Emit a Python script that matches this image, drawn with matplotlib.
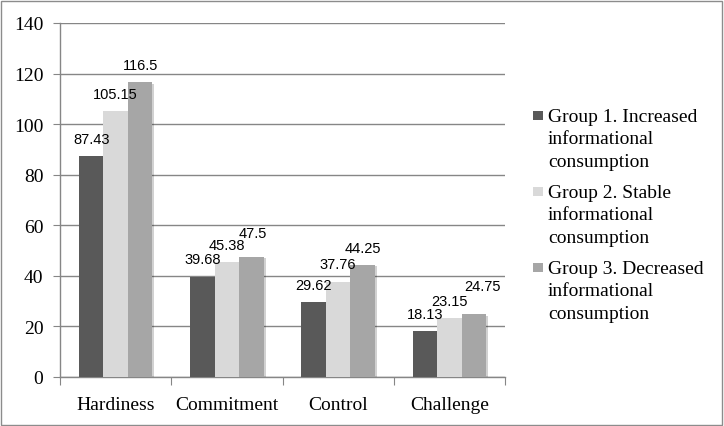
import matplotlib
matplotlib.use("Agg")
import matplotlib.pyplot as plt
import matplotlib.patheffects as pe
import numpy as np
from matplotlib.patches import Rectangle

categories = ["Hardiness", "Commitment", "Control", "Challenge"]
series_names = ["Group 1. Increased\ninformational\nconsumption",
                "Group 2. Stable\ninformational\nconsumption",
                "Group 3. Decreased\ninformational\nconsumption"]
group1 = [87.43, 39.68, 29.62, 18.13]
group2 = [105.15, 45.38, 37.76, 23.15]
group3 = [116.5, 47.5, 44.25, 24.75]
label1 = ["87.43", "39.68", "29.62", "18.13"]
label2 = ["105.15", "45.38", "37.76", "23.15"]
label3 = ["116.5", "47.5", "44.25", "24.75"]
yticks = [0, 20, 40, 60, 80, 100, 120, 140]
colors = ["#595959", "#d9d9d9", "#a6a6a6"]

# label offsets in points (layout only): (series, category) -> (dx, dy)
label_shift = {(2, 1): (1, 5), (2, 3): (6, 8)}

W, H = 724, 427
fig = plt.figure(figsize=(7.24, 4.27), dpi=100)
ax = fig.add_axes([60/W, 49/H, 445/W, 354/H])

x = np.arange(len(categories))
w = 0.22
series = [group1, group2, group3]
labels = [label1, label2, label3]
shadow = [pe.SimplePatchShadow(offset=(1.5, -1), shadow_rgbFace="#000000", alpha=0.18), pe.Normal()]
for i, (vals, labs, c) in enumerate(zip(series, labels, colors)):
    pos = x + (i - 1) * w
    bars = ax.bar(pos, vals, width=w, color=c, zorder=3 + i * 0.1, linewidth=0)
    for b in bars:
        b.set_path_effects(shadow)
    for j, (p, v, t) in enumerate(zip(pos, vals, labs)):
        dx, dy = label_shift.get((i, j), (0, 0))
        ax.annotate(t, (p, v), xytext=(dx, 7.5 + dy), textcoords="offset points",
                    ha="center", va="bottom", fontsize=10.5,
                    family="Liberation Sans", color="#000000", zorder=5)

ax.set_xlim(-0.5, len(categories) - 0.5)
ax.set_ylim(0, 140)
ax.set_yticks(yticks)
ax.set_yticklabels([str(t) for t in yticks], family="Liberation Serif", fontsize=14)
ax.yaxis.grid(True, color="#868686", linewidth=1, zorder=0)
ax.set_axisbelow(True)

ax.set_xticks(np.arange(-0.5, len(categories), 1.0))
ax.set_xticklabels([])
ax.set_xticks(x, minor=True)
ax.set_xticklabels(categories, minor=True, family="Liberation Serif", fontsize=14)
ax.tick_params(axis="x", which="minor", length=0, pad=14)
ax.tick_params(axis="x", which="major", length=6, color="#868686", direction="out")
ax.tick_params(axis="y", length=5, color="#868686", pad=7)

for s in ["top", "right"]:
    ax.spines[s].set_visible(False)
for s in ["left", "bottom"]:
    ax.spines[s].set_color("#868686")
    ax.spines[s].set_linewidth(1)

# legend: square aligned with the first line of each multi-line entry
entry_y = [116, 192, 268]
for name, c, yc in zip(series_names, colors, entry_y):
    fig.patches.append(Rectangle((533/W, 1 - (yc + 4.5)/H), 10/W, 9/H,
                                 transform=fig.transFigure, facecolor=c, edgecolor="none"))
    fig.text(548/W, 1 - (yc - 7)/H, name, ha="left", va="top",
             family="Liberation Serif", fontsize=14, linespacing=1.42)

fig.patches.append(Rectangle((1/W, 1/H), 721/W, 424/H, transform=fig.transFigure,
                             fill=False, edgecolor="#8c8c8c", linewidth=1))

fig.savefig("out.png", dpi=100)
